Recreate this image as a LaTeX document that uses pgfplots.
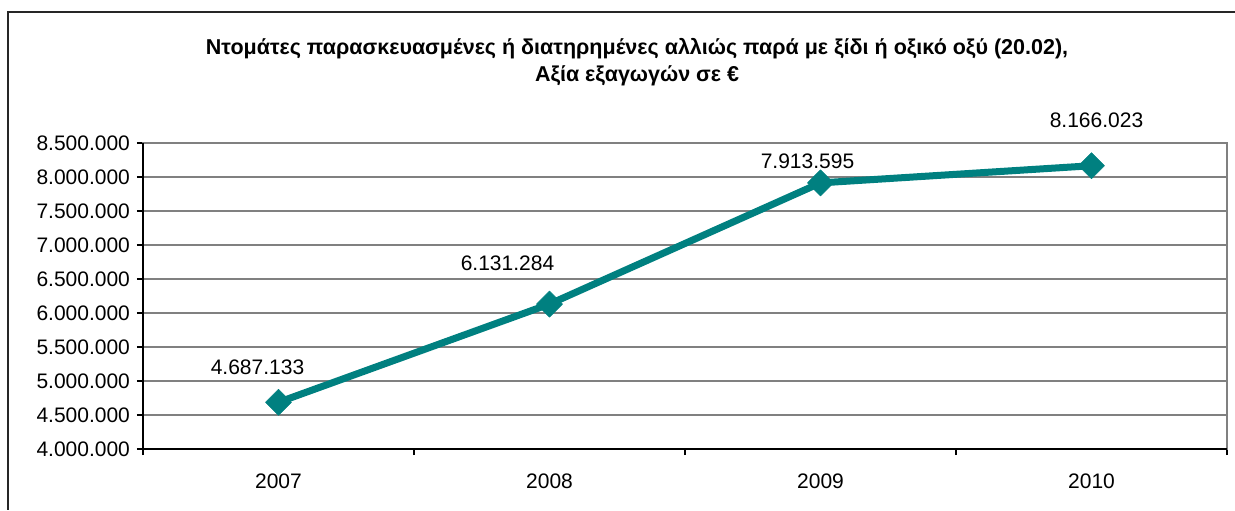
\documentclass[border=0pt]{standalone}
\usepackage{fontspec}
\setmainfont{Liberation Sans}
\usepackage{pgfplots}
\pgfplotsset{compat=1.18}
\definecolor{lineteal}{RGB}{0,128,128}
\definecolor{gridgray}{RGB}{128,128,128}

\begin{document}
\begin{tikzpicture}
% 1 px of the reference = 0.5pt
\useasboundingbox (0pt,0pt) rectangle (617.5pt,255pt);
% outer chart frame (cut off at right and bottom)
\draw[line width=0.6pt, black!85] (617.5pt,249pt) -- (4pt,249pt) -- (4pt,0pt);
\node[font=\fontsize{10.75}{13.5}\selectfont\bfseries, align=center] at (318.5pt,224pt)
  {Ντομάτες παρασκευασμένες ή διατηρημένες αλλιώς παρά με ξίδι ή οξικό οξύ (20.02),\\Αξία εξαγωγών σε €};
\begin{axis}[
  at={(71.5pt,30.5pt)}, anchor=south west,
  scale only axis, width=542pt, height=153pt,
  xmin=-0.5, xmax=3.5, ymin=4000000, ymax=8500000,
  xtick={-0.5,0.5,1.5,2.5,3.5}, x tick label as interval,
  xticklabels={2007,2008,2009,2010},
  xticklabel style={yshift=-6pt},
  ytick={4000000,4500000,5000000,5500000,6000000,6500000,7000000,7500000,8000000,8500000},
  scaled y ticks=false,
  yticklabel style={/pgf/number format/.cd, fixed, 1000 sep={.}, assume math mode=true},
  tick label style={font=\fontsize{10.5}{12}\selectfont},
  tick align=outside, major tick length=3pt,
  xtick pos=bottom, ytick pos=left,
  tick style={black, line width=0.6pt},
  ymajorgrids, grid style={gridgray, line width=0.6pt},
  axis line style={gridgray, line width=0.6pt},
  clip=false,
]
\addplot[color=lineteal, line width=3.5pt, line join=round, mark=square*, mark size=4.6pt,
  mark options={rotate=45, line width=0.3pt, fill=lineteal}]
  coordinates {(0,4687133) (1,6131284) (2,7913595) (3,8166023)};
\draw[black, line width=0.6pt] (rel axis cs:0,1) -- (rel axis cs:0,0) -- (rel axis cs:1,0);
% data labels
\node[font=\fontsize{10.5}{12}\selectfont, xshift=-10.5pt, yshift=17.5pt] at (axis cs:0,4687133) {4.687.133};
\node[font=\fontsize{10.5}{12}\selectfont, xshift=-21pt, yshift=20.5pt] at (axis cs:1,6131284) {6.131.284};
\node[font=\fontsize{10.5}{12}\selectfont, xshift=-6.5pt, yshift=11pt] at (axis cs:2,7913595) {7.913.595};
\node[font=\fontsize{10.5}{12}\selectfont, xshift=2.5pt, yshift=22.5pt] at (axis cs:3,8166023) {8.166.023};
\end{axis}
\end{tikzpicture}
\end{document}
